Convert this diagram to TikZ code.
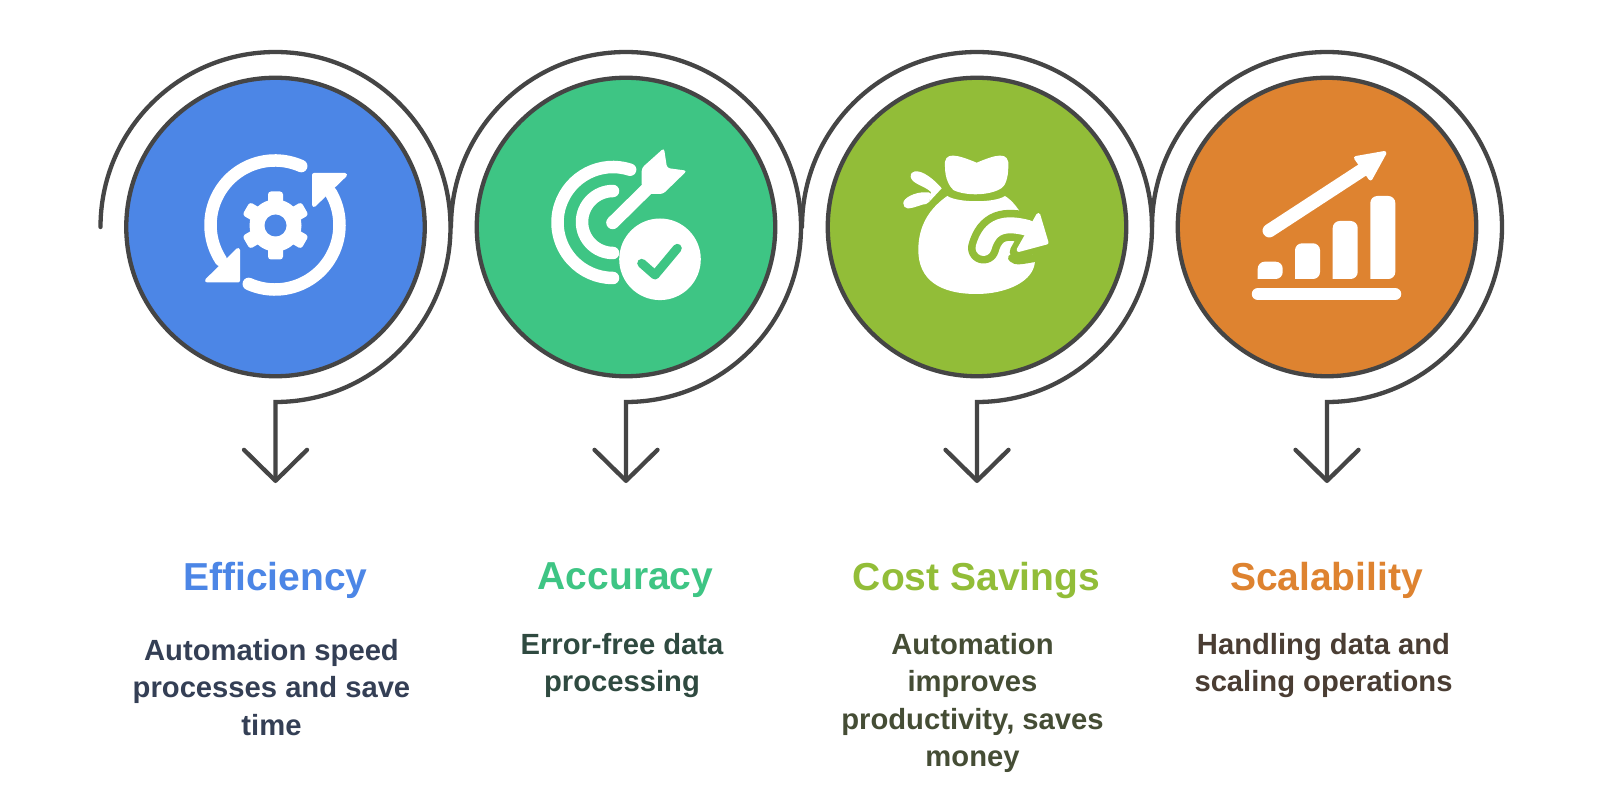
\documentclass[tikz,border=0pt]{standalone}
\usepackage{fontspec}
\setmainfont{Liberation Sans}
\usetikzlibrary{arrows.meta}
\definecolor{azul}{HTML}{4C86E6}
\definecolor{verde}{HTML}{3EC584}
\definecolor{lima}{HTML}{92BD38}
\definecolor{naranja}{HTML}{DE8330}
\definecolor{trazo}{HTML}{454545}
\definecolor{textazul}{HTML}{343F55}
\definecolor{textverde}{HTML}{2F4A40}
\definecolor{textlima}{HTML}{454D35}
\definecolor{textnaranja}{HTML}{4A3D33}
\tikzstyle{disc} = [circle, draw=trazo, line width=4.3pt, minimum size=298.5pt, inner sep=0pt]
\tikzstyle{flow} = [draw=trazo, line width=4.3pt, line cap=round, -{Straight Barb[length=31pt,width=63pt,round]}]
\tikzstyle{headtitle} = [font=\bfseries\fontsize{39}{42}\selectfont, inner sep=0pt]
\tikzstyle{bodytext} = [font=\bfseries\fontsize{29.2}{37.4}\selectfont, align=center, anchor=north, inner sep=0pt]
\tikzstyle{stroke} = [draw=white, line width=12.5pt, line cap=round]
\tikzstyle{solid} = [fill=white, draw=white, line width=4pt, line join=round]
\tikzstyle{tooth} = [fill=white, rounded corners=3pt]
\begin{document}
\begin{tikzpicture}[x=1pt,y=1pt]
	\useasboundingbox (0,0) rectangle (1600,-791);
	\fill[white] (0,0) rectangle (1600,-791);
	% discs
	\node [disc, fill=azul] (discA) at (275.5,-227) {};
	\node [disc, fill=verde] (discB) at (626,-227) {};
	\node [disc, fill=lima] (discC) at (977,-227) {};
	\node [disc, fill=naranja] (discD) at (1327,-227) {};
	% free ends of the rings
	\coordinate (startA) at (100.5,-227);
	\coordinate (startB) at (451,-227);
	\coordinate (startC) at (802,-227);
	\coordinate (startD) at (1152,-227);
	\coordinate (tipA) at (275.5,-483);
	\coordinate (tipB) at (626,-483);
	\coordinate (tipC) at (977,-483);
	\coordinate (tipD) at (1327,-483);
	\draw [flow] (startA) arc[start angle=180, end angle=-90, radius=175] -- (tipA);
	\draw [flow] (startB) arc[start angle=180, end angle=-90, radius=175] -- (tipB);
	\draw [flow] (startC) arc[start angle=180, end angle=-90, radius=175] -- (tipC);
	\draw [flow] (startD) arc[start angle=180, end angle=-90, radius=175] -- (tipD);
	% titles
	\node [headtitle, text=azul] (titleA) at (275.5,-580) {Efficiency};
	\node [headtitle, text=verde] (titleB) at (625.5,-580) {Accuracy};
	\node [headtitle, text=lima] (titleC) at (976.5,-580) {Cost Savings};
	\node [headtitle, text=naranja] (titleD) at (1326.5,-580) {Scalability};
	% texts
	\node [bodytext, text=textazul] (textA) at (271.5,-639) {Automation speed\\processes and save\\time};
	\node [bodytext, text=textverde] (textB) at (622,-633) {Error-free data\\processing};
	\node [bodytext, text=textlima] (textC) at (972.5,-633) {Automation\\improves\\productivity, saves\\money};
	\node [bodytext, text=textnaranja] (textD) at (1323.5,-633) {Handling data and\\scaling operations};
	% icon: gear and two arrows
	\draw [stroke] (275,-225) ++(66:64.5) arc[start angle=66, end angle=213, radius=64.5];
	\draw [stroke] (275,-225) ++(246:64.5) arc[start angle=246, end angle=390, radius=64.5];
	\filldraw [solid] (238,-250) -- (238,-280.5) -- (207,-280.5) -- cycle;
	\filldraw [solid] (314,-175) -- (345,-175) -- (314,-205) -- cycle;
	\fill [white] (275.5,-225.5) circle (26);
	\fill [tooth, rotate around={30:(275.5,-225.5)}] (295,-218) rectangle (309.5,-233);
	\fill [tooth, rotate around={90:(275.5,-225.5)}] (295,-218) rectangle (309.5,-233);
	\fill [tooth, rotate around={150:(275.5,-225.5)}] (295,-218) rectangle (309.5,-233);
	\fill [tooth, rotate around={210:(275.5,-225.5)}] (295,-218) rectangle (309.5,-233);
	\fill [tooth, rotate around={270:(275.5,-225.5)}] (295,-218) rectangle (309.5,-233);
	\fill [tooth, rotate around={330:(275.5,-225.5)}] (295,-218) rectangle (309.5,-233);
	\fill [azul] (275.5,-225.5) circle (11);
	% icon: target, arrow and check
	\draw [stroke] (613,-222.5) ++(72:55.5) arc[start angle=72, end angle=270, radius=55.5];
	\draw [stroke] (613,-222) ++(90:31) arc[start angle=90, end angle=270, radius=31];
	\draw [white, line width=13pt, line cap=round] (612.7,-222.7) -- (653,-183);
	\fill [white, rounded corners=3pt] (641.7,-168) -- (664,-148) -- (667,-168) -- (687,-170.7) -- (663,-194) -- (648,-194) -- (641.7,-187) -- cycle;
	\fill [white] (660,-259.3) circle (40.8);
	\draw [verde, line width=9pt, line cap=round, line join=round] (641.7,-263.3) -- (655,-275) -- (677.3,-248.3);
	% icon: money bag
	\fill [white] (947.3,-196) .. controls (958,-203) and (995,-203) .. (1005,-196) .. controls (1020,-205) and (1035,-235) .. (1035,-260) .. controls (1035,-282) and (1005,-294) .. (976.7,-294) .. controls (940,-294) and (918.3,-280) .. (918.3,-250) .. controls (918.3,-225) and (930,-208) .. (947.3,-196) -- cycle;
	\fill [white] (945,-167) .. controls (943,-150) and (958,-155) .. (976.7,-162.7) .. controls (995,-155) and (1010,-150) .. (1008.3,-167) .. controls (1008.3,-178) and (1005,-186) .. (1001.7,-188) .. controls (990,-196) and (965,-196) .. (953.3,-190) .. controls (949,-186) and (945,-178) .. (945,-167) -- cycle;
	\fill [white] (910.7,-177) .. controls (910,-170) and (918,-170) .. (925,-174) .. controls (932,-178) and (938,-184) .. (941.7,-188.3) -- (929,-202) -- (931,-192) .. controls (925,-186) and (912,-184) .. (910.7,-177) -- cycle;
	\fill [white] (903.3,-203.3) .. controls (903,-198) and (915,-192) .. (925,-192.3) .. controls (928,-192) and (930,-192) .. (931,-194) -- (929,-202) -- (926,-204) .. controls (922,-204) and (915,-208) .. (908,-208.5) .. controls (905,-208.5) and (903.3,-206) .. (903.3,-203.3) -- cycle;
	\draw [lima, line width=31pt, line cap=round] (983.5,-248) .. controls (990,-225) and (1005,-222) .. (1028,-228);
	\filldraw [lima, line width=14pt, line join=round] (1038.3,-212.7) -- (1048.3,-243.3) -- (1016.7,-251.7) -- cycle;
	\draw [lima, line width=8pt, line cap=round] (1012,-258) .. controls (1016,-262) and (1022,-260) .. (1035,-258);
	\draw [white, line width=16pt, line cap=round] (983.5,-248) .. controls (990,-225) and (1005,-222) .. (1028,-228);
	\filldraw [solid] (1038.3,-215) -- (1046.5,-242.5) -- (1018.5,-250) -- cycle;
	% icon: bar chart
	\draw [white, line width=13.5pt, line cap=round] (1269.3,-230.7) -- (1370,-165);
	\filldraw [solid] (1356,-158) -- (1384.5,-153) -- (1370.5,-178.5) -- cycle;
	\fill [white] (1257.7,-279) [rounded corners=7pt] -- (1257.7,-261.7) -- (1282.7,-261.7) -- (1282.7,-279) [sharp corners] -- cycle;
	\fill [white] (1295,-279) [rounded corners=7pt] -- (1295,-243.3) -- (1320,-243.3) -- (1320,-279) [sharp corners] -- cycle;
	\fill [white] (1332.7,-279) [rounded corners=7pt] -- (1332.7,-221) -- (1357.7,-221) -- (1357.7,-279) [sharp corners] -- cycle;
	\fill [white] (1370.3,-279) [rounded corners=7pt] -- (1370.3,-196) -- (1395.3,-196) -- (1395.3,-279) [sharp corners] -- cycle;
	\draw [white, line width=12.5pt, line cap=round] (1258,-294) -- (1395,-294);
\end{tikzpicture}
\end{document}
